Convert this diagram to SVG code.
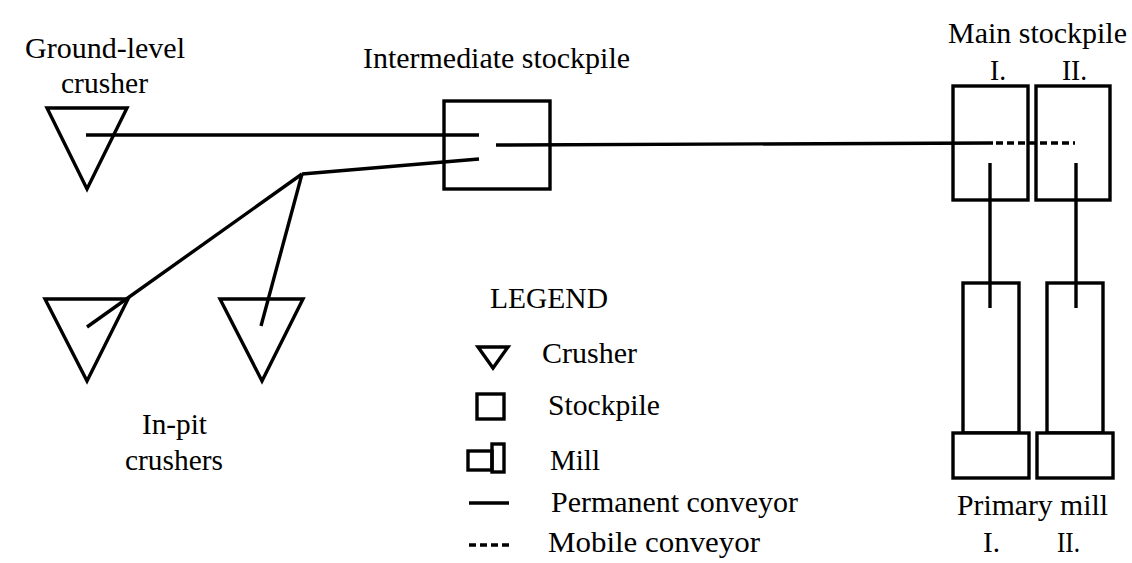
<svg xmlns="http://www.w3.org/2000/svg" width="1132" height="563" viewBox="0 0 1132 563">
<style>
text{font-family:"Liberation Serif","Times New Roman",serif;font-size:29px;fill:#000}
.s{fill:#fff;stroke:#000;stroke-width:3.4}
.c{fill:none;stroke:#000;stroke-width:3.4}
.d{fill:none;stroke:#000;stroke-width:3.4;stroke-dasharray:7 4}
</style>
<rect width="1132" height="563" fill="#fff"/>
<g id="ground-crusher">
<polygon class="s" points="47,108 127,108 87,189"/>
<text x="25" y="58" textLength="160" lengthAdjust="spacingAndGlyphs">Ground-level</text>
<text x="61" y="93" textLength="87" lengthAdjust="spacingAndGlyphs">crusher</text>
</g>
<g id="inpit-crusher-1">
<polygon class="s" points="45,299 128,299 87,381"/>
</g>
<g id="inpit-crusher-2">
<polygon class="s" points="220,299 303,299 262,381"/>
<text x="142" y="434" textLength="65" lengthAdjust="spacingAndGlyphs">In-pit</text>
<text x="125" y="470" textLength="98" lengthAdjust="spacingAndGlyphs">crushers</text>
</g>
<g id="intermediate-stockpile">
<rect class="s" x="444" y="101" width="106" height="88"/>
<text x="363" y="68" textLength="267" lengthAdjust="spacingAndGlyphs">Intermediate stockpile</text>
</g>
<g id="main-stockpile">
<rect class="s" x="953" y="86" width="75" height="114"/>
<rect class="s" x="1036" y="86" width="74" height="114"/>
<text x="948" y="43" textLength="179" lengthAdjust="spacingAndGlyphs">Main stockpile</text>
<text x="990" y="80" textLength="16" lengthAdjust="spacingAndGlyphs">I.</text>
<text x="1062" y="80" textLength="25" lengthAdjust="spacingAndGlyphs">II.</text>
</g>
<g id="primary-mill-1">
<rect class="s" x="963" y="283" width="56" height="150"/>
<rect class="s" x="953" y="433" width="76" height="45"/>
</g>
<g id="primary-mill-2">
<rect class="s" x="1047" y="283" width="56" height="150"/>
<rect class="s" x="1037" y="433" width="76" height="45"/>
<text x="957" y="515" textLength="151" lengthAdjust="spacingAndGlyphs">Primary mill</text>
<text x="983" y="552" textLength="17" lengthAdjust="spacingAndGlyphs">I.</text>
<text x="1057" y="552" textLength="23" lengthAdjust="spacingAndGlyphs">II.</text>
</g>
<g id="connectors">
<line class="c" x1="86" y1="135" x2="479" y2="135"/>
<line class="c" x1="302" y1="174" x2="479" y2="159"/>
<line class="c" x1="302" y1="174" x2="87" y2="327"/>
<line class="c" x1="302" y1="174" x2="261" y2="326"/>
<line class="c" x1="496" y1="145" x2="993" y2="143"/>
<line class="d" x1="996" y1="143" x2="1075" y2="143"/>
<line class="c" x1="990" y1="163" x2="990" y2="308"/>
<line class="c" x1="1076" y1="163" x2="1076" y2="308"/>
</g>
<g id="legend">
<text x="490" y="308" textLength="118" lengthAdjust="spacingAndGlyphs">LEGEND</text>
<polygon class="c" points="478,347 508,347 493,368" stroke-width="4"/>
<text x="542" y="363" textLength="95" lengthAdjust="spacingAndGlyphs">Crusher</text>
<rect class="c" x="477" y="394" width="27" height="25" stroke-width="4"/>
<text x="548" y="415" textLength="112" lengthAdjust="spacingAndGlyphs">Stockpile</text>
<rect class="c" x="468" y="451" width="24" height="19" stroke-width="4"/>
<rect class="c" x="492" y="444" width="12" height="28" stroke-width="3"/>
<text x="550" y="470" textLength="50" lengthAdjust="spacingAndGlyphs">Mill</text>
<line class="c" x1="469" y1="503" x2="509" y2="503"/>
<text x="551" y="512" textLength="247" lengthAdjust="spacingAndGlyphs">Permanent conveyor</text>
<line class="d" x1="469" y1="545" x2="509" y2="545" stroke-width="4" stroke-dasharray="6 4"/>
<text x="548" y="552" textLength="212" lengthAdjust="spacingAndGlyphs">Mobile conveyor</text>
</g>
</svg>
